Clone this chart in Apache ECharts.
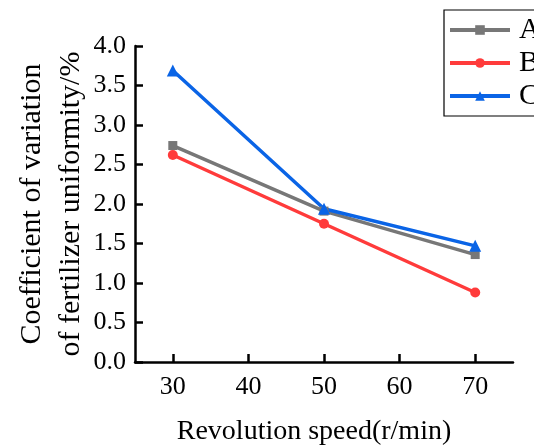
<!DOCTYPE html>
<html><head><meta charset="utf-8">
<script src="https://cdn.jsdelivr.net/npm/echarts@6/dist/echarts.min.js"></script>
<style>html,body{margin:0;padding:0;background:#fff}#c{width:534px;height:446px}</style>
</head><body><div id="c"></div>
<script>
var speeds = [30, 50, 70];
var seriesA = [2.74, 1.91, 1.36];
var seriesB = [2.62, 1.75, 0.88];
var seriesC = [3.69, 1.94, 1.47];
var xTicks = [30, 40, 50, 60, 70];
var names = ['A', 'B', 'C'];

function pairs(v){ return speeds.map(function(s,i){ return [s, v[i]]; }); }
var font = 'Liberation Serif';
var chart = echarts.init(document.getElementById('c'), null, {renderer:'canvas'});
chart.setOption({
  animation:false,
  backgroundColor:'#fff',
  grid:{left:135, right:21, top:46, bottom:84, containLabel:false, outerBoundsMode:'none'},
  legend:{
    data:names, orient:'vertical', left:444, top:10,
    borderColor:'#000', borderWidth:1.2, padding:[5,40,5,4],
    itemWidth:60, itemHeight:12, itemGap:3,
    lineStyle:{width:4},
    textStyle:{fontFamily:font, fontSize:30, color:'#000', padding:[0,0,0,4]}
  },
  xAxis:{
    type:'value', min:25, max:75,
    name:'Revolution speed(r/min)', nameLocation:'middle', nameGap:56, nameMoveOverlap:false,
    nameTextStyle:{fontFamily:font, fontSize:28, color:'#000', padding:[0,20,0,0]},
    axisLine:{lineStyle:{color:'#000', width:2.5}},
    axisTick:{inside:true, length:8, lineStyle:{width:2.5, color:'#000'}, customValues:xTicks},
    axisLabel:{fontFamily:font, fontSize:26, color:'#000', margin:12, customValues:xTicks},
    splitLine:{show:false}
  },
  yAxis:{
    type:'value', min:0, max:4, interval:0.5,
    name:'Coefficient of variation\nof fertilizer uniformity/%', nameLocation:'middle', nameGap:44, nameMoveOverlap:false,
    nameTextStyle:{fontFamily:font, fontSize:30, color:'#000', lineHeight:39},
    axisLine:{show:true, lineStyle:{color:'#000', width:2.5}},
    axisTick:{show:true, inside:true, length:8, lineStyle:{width:2.5, color:'#000'}},
    axisLabel:{fontFamily:font, fontSize:26, color:'#000', margin:9,
      formatter:function(v){ return v.toFixed(1); }},
    splitLine:{show:false}
  },
  series:[
    {name:'A', type:'line', data:pairs(seriesA), symbol:'rect', symbolSize:9,
      itemStyle:{color:'#777777'}, lineStyle:{color:'#777777', width:3.5}},
    {name:'B', type:'line', data:pairs(seriesB), symbol:'circle', symbolSize:10,
      itemStyle:{color:'#ff3b3b'}, lineStyle:{color:'#ff3b3b', width:3.5}},
    {name:'C', type:'line', data:pairs(seriesC), symbol:'triangle', symbolSize:12,
      itemStyle:{color:'#0a64e6'}, lineStyle:{color:'#0a64e6', width:3.5}}
  ]
});
</script></body></html>
